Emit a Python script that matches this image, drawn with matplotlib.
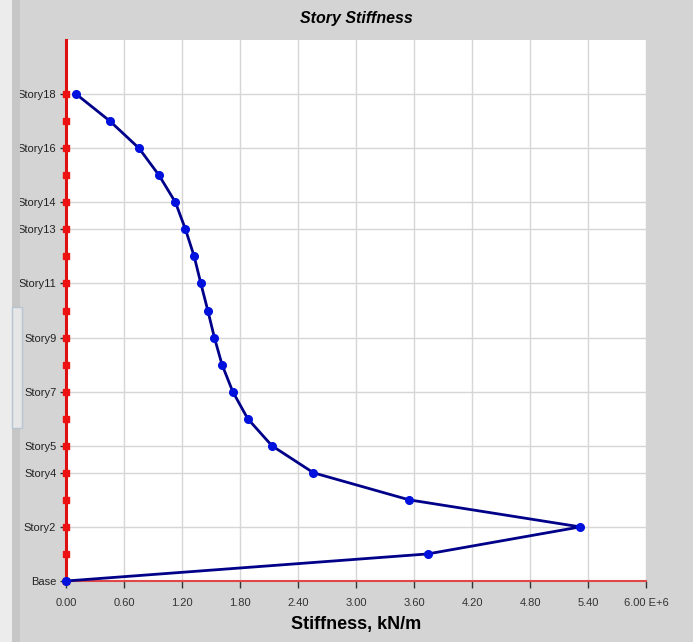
import matplotlib.pyplot as plt
import matplotlib.patches as mpatches
import numpy as np

# story levels and stiffness (E+6 kN/m)
stories = ["Base"] + ["Story%d" % i for i in range(1, 19)]
levels = list(range(19))
stiffness = [0.0, 3.74, 5.32, 3.55, 2.56, 2.13, 1.88, 1.725, 1.614, 1.535,
             1.467, 1.395, 1.326, 1.236, 1.132, 0.962, 0.755, 0.455, 0.105]
label_levels = [0, 2, 4, 5, 7, 9, 11, 13, 14, 16, 18]
x_ticks = [0.0, 0.6, 1.2, 1.8, 2.4, 3.0, 3.6, 4.2, 4.8, 5.4, 6.0]
x_labels = ["0.00", "0.60", "1.20", "1.80", "2.40", "3.00", "3.60", "4.20", "4.80", "5.40", "6.00 E+6"]

plt.rcParams['font.family'] = ['Liberation Sans', 'DejaVu Sans']

fig = plt.figure(figsize=(6.93, 6.42), dpi=100, facecolor='#d4d4d4')
# light strip on the left edge, like the window border
fig.patches.append(mpatches.Rectangle((0, 0), 12 / 693, 1, transform=fig.transFigure,
                                      facecolor='#ececec', edgecolor='none', zorder=0))
fig.patches.append(mpatches.Rectangle((12 / 693, 0), 8 / 693, 1, transform=fig.transFigure,
                                      facecolor='#c6c6c6', edgecolor='none', zorder=0))
fig.patches.append(mpatches.Rectangle((12 / 693, 1 - 428 / 642), 10 / 693, 121 / 642,
                                      transform=fig.transFigure,
                                      facecolor='#e6e6e6', edgecolor='#b8c4d0', zorder=0))

ax = fig.add_axes([66 / 693, 1 - 581 / 642, 580 / 693, 541 / 642])
ax.set_facecolor('white')
ax.set_xlim(0, 6)
ax.set_ylim(0, 20)

ax.set_xticks(x_ticks)
ax.set_xticklabels(x_labels, fontsize=8, color='#333333')
ax.set_yticks(label_levels)
ax.set_yticklabels([stories[i] for i in label_levels], fontsize=8, color='#222222')
ax.tick_params(axis='x', length=5, width=1, color='#333333', pad=7)
ax.tick_params(axis='y', length=4, width=1, color='#333333', pad=3)

ax.grid(True, color='#d6d6d6', linewidth=1)
ax.set_axisbelow(True)

for s in ['top', 'right']:
    ax.spines[s].set_visible(False)
ax.spines['bottom'].set_color('#e04848')
ax.spines['bottom'].set_linewidth(1.5)
ax.spines['left'].set_color('#dd1111')
ax.spines['left'].set_linewidth(2.2)

# red story markers along the axis
ax.plot(np.zeros(len(levels)), levels, linestyle='none', marker='s', markersize=5,
        color='#ee1111', clip_on=False, zorder=4)

ax.plot(stiffness, levels, color='#000088', linewidth=2, marker='o', markersize=5.5,
        markerfacecolor='#0011dd', markeredgecolor='#0011dd', clip_on=False, zorder=5)

ax.set_xlabel("Stiffness, kN/m", fontsize=13, fontweight='bold', labelpad=6)
fig.text(356 / 693, 1 - 18 / 642, "Story Stiffness", ha='center', va='center',
         fontsize=11.5, fontweight='bold', fontstyle='italic')

fig.savefig("out.png", dpi=100, facecolor=fig.get_facecolor())
